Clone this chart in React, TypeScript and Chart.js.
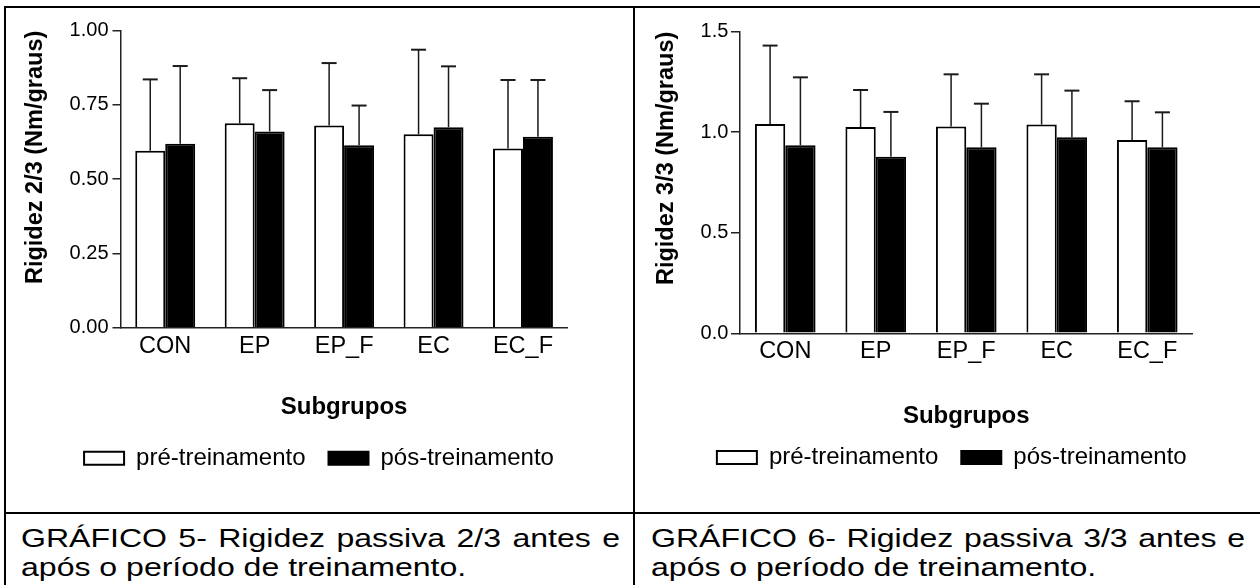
import React, { useEffect, useRef } from 'react';
import { Chart, registerables } from 'chart.js';

Chart.register(...registerables);

const FONT = "'Liberation Sans', Arial, Helvetica, sans-serif";

// ---------- data ----------
const categories = ['CON', 'EP', 'EP_F', 'EC', 'EC_F'];
const seriesLabels = ['pré-treinamento', 'pós-treinamento'];

// Gráfico 5 – Rigidez 2/3
const pre23 = [0.596, 0.688, 0.681, 0.651, 0.603];
const post23 = [0.619, 0.661, 0.614, 0.675, 0.643];
const preErr23 = [0.240, 0.152, 0.210, 0.285, 0.231];
const postErr23 = [0.262, 0.139, 0.134, 0.205, 0.191];
const yTicks23 = [0, 0.25, 0.5, 0.75, 1.0];

// Gráfico 6 – Rigidez 3/3
const pre33 = [1.041, 1.026, 1.028, 1.038, 0.961];
const post33 = [0.935, 0.878, 0.925, 0.975, 0.925];
const preErr33 = [0.390, 0.184, 0.260, 0.250, 0.193];
const postErr33 = [0.338, 0.223, 0.217, 0.232, 0.174];
const yTicks33 = [0, 0.5, 1.0, 1.5];

const caption5 = ['GRÁFICO 5- Rigidez passiva 2/3 antes e', 'após o período de treinamento.'];
const caption6 = ['GRÁFICO 6- Rigidez passiva 3/3 antes e', 'após o período de treinamento.'];

// ---------- error bar plugin ----------
const errorBars = {
  id: 'errorBars',
  afterDatasetsDraw(chart: any) {
    const ctx = chart.ctx;
    const yScale = chart.scales.y;
    chart.data.datasets.forEach((ds: any, di: number) => {
      const meta = chart.getDatasetMeta(di);
      meta.data.forEach((bar: any, i: number) => {
        const v = ds.data[i];
        const e = ds.errors[i];
        const top = yScale.getPixelForValue(v + e);
        const x = bar.x;
        ctx.save();
        ctx.strokeStyle = '#1a1a1a';
        ctx.lineWidth = 1.5;
        ctx.beginPath();
        ctx.moveTo(x, bar.y);
        ctx.lineTo(x, top);
        ctx.stroke();
        ctx.lineWidth = 2;
        ctx.beginPath();
        ctx.moveTo(x - 7.5, top);
        ctx.lineTo(x + 7.5, top);
        ctx.stroke();
        ctx.restore();
      });
    });
  },
};

type P = {
  yTitle: string;
  pre: number[];
  post: number[];
  preErr: number[];
  postErr: number[];
  ticks: number[];
  decimals: number;
  pad: { left: number; right: number; top: number; bottom: number };
  yWidth: number;
  y2Width: number;
  xHeight: number;
  yTickLen: number;
  yTickPad: number;
  yTitlePad: number;
  xLabelPad: number;
  xTitlePad: number;
};

function makeConfig(p: P): any {
  const step = p.ticks[1] - p.ticks[0];
  return {
    type: 'bar',
    data: {
      labels: categories,
      datasets: [
        {
          label: seriesLabels[0],
          data: p.pre,
          errors: p.preErr,
          backgroundColor: '#ffffff',
          borderColor: '#000000',
          borderWidth: 2,
        },
        {
          label: seriesLabels[1],
          data: p.post,
          errors: p.postErr,
          backgroundColor: '#000000',
          borderColor: '#000000',
          borderWidth: 2,
        },
      ],
    },
    options: {
      responsive: false,
      animation: false,
      events: [],
      layout: { padding: p.pad },
      datasets: { bar: { categoryPercentage: 0.67, barPercentage: 1.0 } },
      plugins: {
        tooltip: { enabled: false },
        legend: {
          display: true,
          position: 'bottom',
          labels: {
            boxWidth: 40,
            boxHeight: 13,
            padding: 23,
            color: '#000',
            font: { family: FONT, size: 24 },
          },
        },
      },
      scales: {
        x: {
          grid: { display: false, drawTicks: false },
          border: { display: true, color: '#222', width: 1.5 },
          ticks: { color: '#000', padding: p.xLabelPad, font: { family: FONT, size: 23.5 } },
          title: {
            display: true,
            text: 'Subgrupos',
            color: '#000',
            font: { family: FONT, size: 24, weight: 'bold' },
            padding: { top: 0, bottom: p.xTitlePad },
          },
          afterFit: (s: any) => {
            s.height = p.xHeight;
          },
        },
        y: {
          min: p.ticks[0],
          max: p.ticks[p.ticks.length - 1],
          afterBuildTicks: (s: any) => {
            s.ticks = p.ticks.map((v) => ({ value: v }));
          },
          ticks: {
            stepSize: step,
            color: '#000',
            padding: p.yTickPad,
            font: { family: FONT, size: 20 },
            callback: (v: any) => Number(v).toFixed(p.decimals),
          },
          grid: {
            display: true,
            drawOnChartArea: false,
            drawTicks: true,
            tickLength: p.yTickLen,
            color: '#222',
            lineWidth: 1.5,
          },
          border: { display: true, color: '#222', width: 1.5 },
          title: {
            display: true,
            text: p.yTitle,
            align: 'end',
            color: '#000',
            font: { family: FONT, size: 23.5, weight: 'bold' },
            padding: { top: p.yTitlePad, bottom: 0 },
          },
          afterFit: (s: any) => {
            s.width = p.yWidth;
          },
        },
        y2: {
          position: 'right',
          display: true,
          grid: { display: false, drawTicks: false },
          border: { display: false },
          ticks: { display: false },
          afterFit: (s: any) => {
            s.width = p.y2Width;
          },
        },
      },
    },
    plugins: [errorBars],
  };
}

function ChartCanvas({ cfg, left, top, width, height }: { cfg: any; left: number; top: number; width: number; height: number }) {
  const ref = useRef<HTMLCanvasElement>(null);
  useEffect(() => {
    const chart = new Chart(ref.current as HTMLCanvasElement, cfg);
    return () => chart.destroy();
  }, []);
  return (
    <canvas
      ref={ref}
      width={width}
      height={height}
      style={{ position: 'absolute', left, top, width, height, display: 'block' }}
    />
  );
}

function Caption({ lines, left, top, width }: { lines: string[]; left: number; top: number; width: number }) {
  const sx = 1.232;
  const base: React.CSSProperties = {
    fontFamily: FONT,
    fontSize: 26,
    lineHeight: '29px',
    color: '#000',
    whiteSpace: 'nowrap',
  };
  return (
    <div
      style={{
        position: 'absolute',
        left,
        top,
        width: width / sx,
        transform: `scaleX(${sx})`,
        transformOrigin: 'left top',
      }}
    >
      <div style={{ ...base, whiteSpace: 'normal', textAlign: 'justify', textAlignLast: 'justify' as any }}>{lines[0]}</div>
      <div style={base}>{lines[1]}</div>
    </div>
  );
}

export default function App() {
  const left = makeConfig({
    yTitle: 'Rigidez 2/3 (Nm/graus)',
    pre: pre23,
    post: post23,
    preErr: preErr23,
    postErr: postErr23,
    ticks: yTicks23,
    decimals: 2,
    pad: { left: 0, right: 1, top: 22.7, bottom: 31.7 },
    yWidth: 114.5,
    y2Width: 64.3,
    xHeight: 95.6,
    yTickLen: 8,
    yTickPad: 4,
    yTitlePad: 15,
    xLabelPad: 5,
    xTitlePad: 1.4,
  });
  const right = makeConfig({
    yTitle: 'Rigidez 3/3 (Nm/graus)',
    pre: pre33,
    post: post33,
    preErr: preErr33,
    postErr: postErr33,
    ticks: yTicks33,
    decimals: 1,
    pad: { left: 7.6, right: 0, top: 23.7, bottom: 32.5 },
    yWidth: 96.4,
    y2Width: 67.5,
    xHeight: 89.2,
    yTickLen: 9,
    yTickPad: 2.6,
    yTitlePad: 9,
    xLabelPad: 3.7,
    xTitlePad: -8.6,
  });
  const line = (l: number, t: number, w: number, h: number): React.CSSProperties => ({
    position: 'absolute',
    left: l,
    top: t,
    width: w,
    height: h,
    background: '#000',
  });
  return (
    <div
      style={{
        position: 'fixed',
        left: 0,
        top: 0,
        width: 1260,
        height: 585,
        background: '#fff',
        overflow: 'hidden',
      }}
    >
      <ChartCanvas cfg={left} left={6} top={8} width={627} height={504} />
      <ChartCanvas cfg={right} left={636} top={8} width={624} height={504} />
      <div style={line(4, 6, 1256, 2)} />
      <div style={line(4, 6, 2, 579)} />
      <div style={line(633, 6, 2, 579)} />
      <div style={line(4, 512, 1256, 2)} />
      <Caption lines={caption5} left={21} top={523.5} width={599} />
      <Caption lines={caption6} left={651} top={523.5} width={594} />
    </div>
  );
}
